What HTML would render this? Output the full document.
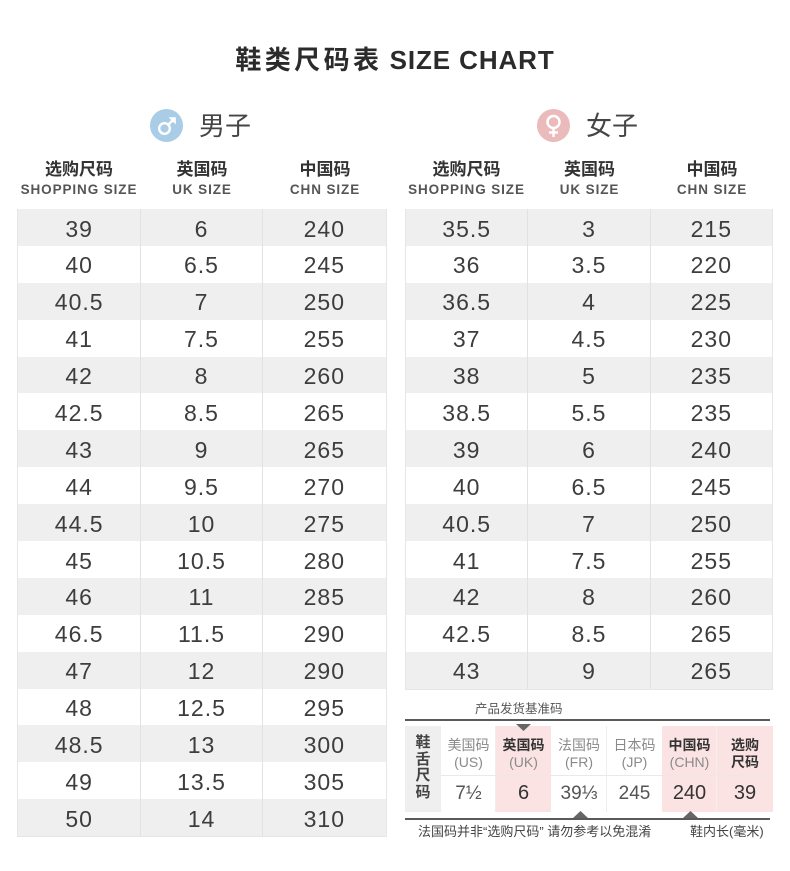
<!DOCTYPE html>
<html><head><meta charset="utf-8">
<style>
*{margin:0;padding:0;box-sizing:border-box}
body{width:790px;height:871px;background:#fff;position:relative;overflow:hidden;font-family:"Liberation Sans","Noto Sans CJK SC",sans-serif;color:#333}
.abs{position:absolute}
.title{left:0;width:790px;top:43px;text-align:center;font-size:26px;font-weight:bold;color:#2b2b2b;line-height:34px;white-space:nowrap}
.title .cn{letter-spacing:3.4px}
.title .en{font-family:"Liberation Sans",sans-serif;letter-spacing:0.9px}
.sex{font-size:26px;color:#454545;line-height:30px;top:111px}
.hd{text-align:center;white-space:nowrap}
.hd .c{font-size:17px;font-weight:bold;color:#333;line-height:20px}
.hd .e{font-size:13.5px;font-weight:bold;color:#555;letter-spacing:0.9px;line-height:16px;margin-top:2px}
.tbl{position:absolute;border:1px solid #e6e6e6;border-top:none}
.row{display:flex;height:36.9px}
.row.g{background:#efefef}
.row div{text-align:center;font-size:23px;letter-spacing:1px;color:#3d3d3d;line-height:36.9px;padding-top:1.5px;border-right:1px solid #e2e2e2}
.row div:last-child{border-right:none}
.st{position:absolute;font-size:14px;text-align:center;line-height:17px;color:#8a8a8a}
.st b{color:#333}
.val{position:absolute;text-align:center;font-size:19px;color:#555;line-height:37px}
</style></head><body>

<div class="abs title"><span class="cn">鞋类尺码表</span> <span class="en">SIZE CHART</span></div>

<svg class="abs" style="left:150px;top:109px" width="33" height="33" viewBox="0 0 33 33">
<circle cx="16.5" cy="16.5" r="16.5" fill="#a9cde6"/>
<circle cx="14.5" cy="19.5" r="5.3" fill="none" stroke="#fff" stroke-width="2.4"/>
<line x1="18.3" y1="15.7" x2="23.5" y2="10.5" stroke="#fff" stroke-width="2.4"/>
<polygon points="18.5,8.2 25.8,8.2 25.8,15.5" fill="#fff"/>
</svg>
<div class="abs sex" style="left:199px">男子</div>

<svg class="abs" style="left:537px;top:109px" width="33" height="33" viewBox="0 0 33 33">
<circle cx="16.5" cy="16.5" r="16.5" fill="#ebbaba"/>
<circle cx="16.5" cy="13" r="6" fill="none" stroke="#fff" stroke-width="2.4"/>
<line x1="16.5" y1="19" x2="16.5" y2="28" stroke="#fff" stroke-width="2.4"/>
<line x1="12" y1="23.5" x2="21" y2="23.5" stroke="#fff" stroke-width="2.4"/>
</svg>
<div class="abs sex" style="left:586px">女子</div>

<!-- headers male -->
<div class="abs hd" style="left:17px;width:124px;top:160px"><div class="c">选购尺码</div><div class="e">SHOPPING SIZE</div></div>
<div class="abs hd" style="left:141px;width:122px;top:160px"><div class="c">英国码</div><div class="e">UK SIZE</div></div>
<div class="abs hd" style="left:263px;width:124px;top:160px"><div class="c">中国码</div><div class="e">CHN SIZE</div></div>
<!-- headers female -->
<div class="abs hd" style="left:405px;width:123px;top:160px"><div class="c">选购尺码</div><div class="e">SHOPPING SIZE</div></div>
<div class="abs hd" style="left:528px;width:123px;top:160px"><div class="c">英国码</div><div class="e">UK SIZE</div></div>
<div class="abs hd" style="left:651px;width:122px;top:160px"><div class="c">中国码</div><div class="e">CHN SIZE</div></div>

<div class="tbl" style="left:17px;top:209px;width:370px">
<div class="row g"><div style="width:124px">39</div><div style="width:122px">6</div><div style="width:124px">240</div></div>
<div class="row"><div style="width:124px">40</div><div style="width:122px">6.5</div><div style="width:124px">245</div></div>
<div class="row g"><div style="width:124px">40.5</div><div style="width:122px">7</div><div style="width:124px">250</div></div>
<div class="row"><div style="width:124px">41</div><div style="width:122px">7.5</div><div style="width:124px">255</div></div>
<div class="row g"><div style="width:124px">42</div><div style="width:122px">8</div><div style="width:124px">260</div></div>
<div class="row"><div style="width:124px">42.5</div><div style="width:122px">8.5</div><div style="width:124px">265</div></div>
<div class="row g"><div style="width:124px">43</div><div style="width:122px">9</div><div style="width:124px">265</div></div>
<div class="row"><div style="width:124px">44</div><div style="width:122px">9.5</div><div style="width:124px">270</div></div>
<div class="row g"><div style="width:124px">44.5</div><div style="width:122px">10</div><div style="width:124px">275</div></div>
<div class="row"><div style="width:124px">45</div><div style="width:122px">10.5</div><div style="width:124px">280</div></div>
<div class="row g"><div style="width:124px">46</div><div style="width:122px">11</div><div style="width:124px">285</div></div>
<div class="row"><div style="width:124px">46.5</div><div style="width:122px">11.5</div><div style="width:124px">290</div></div>
<div class="row g"><div style="width:124px">47</div><div style="width:122px">12</div><div style="width:124px">290</div></div>
<div class="row"><div style="width:124px">48</div><div style="width:122px">12.5</div><div style="width:124px">295</div></div>
<div class="row g"><div style="width:124px">48.5</div><div style="width:122px">13</div><div style="width:124px">300</div></div>
<div class="row"><div style="width:124px">49</div><div style="width:122px">13.5</div><div style="width:124px">305</div></div>
<div class="row g"><div style="width:124px">50</div><div style="width:122px">14</div><div style="width:124px">310</div></div>
</div>

<div class="tbl" style="left:405px;top:209px;width:368px">
<div class="row g"><div style="width:123px">35.5</div><div style="width:123px">3</div><div style="width:122px">215</div></div>
<div class="row"><div style="width:123px">36</div><div style="width:123px">3.5</div><div style="width:122px">220</div></div>
<div class="row g"><div style="width:123px">36.5</div><div style="width:123px">4</div><div style="width:122px">225</div></div>
<div class="row"><div style="width:123px">37</div><div style="width:123px">4.5</div><div style="width:122px">230</div></div>
<div class="row g"><div style="width:123px">38</div><div style="width:123px">5</div><div style="width:122px">235</div></div>
<div class="row"><div style="width:123px">38.5</div><div style="width:123px">5.5</div><div style="width:122px">235</div></div>
<div class="row g"><div style="width:123px">39</div><div style="width:123px">6</div><div style="width:122px">240</div></div>
<div class="row"><div style="width:123px">40</div><div style="width:123px">6.5</div><div style="width:122px">245</div></div>
<div class="row g"><div style="width:123px">40.5</div><div style="width:123px">7</div><div style="width:122px">250</div></div>
<div class="row"><div style="width:123px">41</div><div style="width:123px">7.5</div><div style="width:122px">255</div></div>
<div class="row g"><div style="width:123px">42</div><div style="width:123px">8</div><div style="width:122px">260</div></div>
<div class="row"><div style="width:123px">42.5</div><div style="width:123px">8.5</div><div style="width:122px">265</div></div>
<div class="row g"><div style="width:123px">43</div><div style="width:123px">9</div><div style="width:122px">265</div></div>
</div>

<!-- small reference table -->
<div class="abs" style="left:475px;top:700px;font-size:12.5px;color:#555;line-height:18px;white-space:nowrap">产品发货基准码</div>
<div class="abs" style="left:405px;top:718.5px;width:365px;height:2px;background:#5a5a5a"></div>

<div class="abs" style="left:405px;top:726px;width:36px;height:86px;background:#efefef"></div>
<div class="abs" style="left:441px;top:726px;width:55px;height:86px;background:#fff;border-right:1px solid #eee"></div>
<div class="abs" style="left:496px;top:726px;width:55px;height:86px;background:#fbe3e3"></div>
<div class="abs" style="left:551px;top:726px;width:56px;height:86px;background:#fff;border-right:1px solid #eee"></div>
<div class="abs" style="left:607px;top:726px;width:55px;height:86px;background:#fff"></div>
<div class="abs" style="left:662px;top:726px;width:55px;height:86px;background:#fbe3e3;border-right:1px solid #f6eeee"></div>
<div class="abs" style="left:717px;top:726px;width:56px;height:86px;background:#fbe3e3"></div>
<div class="abs" style="left:441px;top:775px;width:332px;height:1px;background:#efe6e6"></div>

<svg class="abs" style="left:516px;top:724px" width="15" height="8"><polygon points="0,0 15,0 7.5,7" fill="#666"/></svg>

<div class="st" style="left:405px;top:735px;width:36px;font-size:15px;font-weight:bold;color:#444;line-height:16.5px">鞋<br>舌<br>尺<br>码</div>

<div class="st" style="left:441px;top:737px;width:55px">美国码<br>(US)</div>
<div class="st" style="left:496px;top:737px;width:55px"><b>英国码</b><br>(UK)</div>
<div class="st" style="left:551px;top:737px;width:56px">法国码<br>(FR)</div>
<div class="st" style="left:607px;top:737px;width:55px">日本码<br>(JP)</div>
<div class="st" style="left:662px;top:737px;width:55px"><b>中国码</b><br>(CHN)</div>
<div class="st" style="left:717px;top:737px;width:56px;color:#333"><b>选购<br>尺码</b></div>

<div class="val" style="left:441px;top:775px;width:55px">7½</div>
<div class="val" style="left:496px;top:775px;width:55px;color:#333;font-size:20px">6</div>
<div class="val" style="left:551px;top:775px;width:56px">39⅓</div>
<div class="val" style="left:607px;top:775px;width:55px">245</div>
<div class="val" style="left:662px;top:775px;width:55px;color:#333;font-size:20px">240</div>
<div class="val" style="left:717px;top:775px;width:56px;color:#333;font-size:20px">39</div>

<svg class="abs" style="left:573px;top:811px" width="15" height="7"><polygon points="0,7 15,7 7.5,0" fill="#666"/></svg>
<svg class="abs" style="left:683px;top:811px" width="15" height="7"><polygon points="0,7 15,7 7.5,0" fill="#666"/></svg>
<div class="abs" style="left:405px;top:818px;width:365px;height:2px;background:#5a5a5a"></div>

<div class="abs" style="left:418px;top:823px;font-size:13px;color:#444;line-height:18px;white-space:nowrap">法国码并非“选购尺码” 请勿参考以免混淆</div>
<div class="abs" style="left:690px;top:823px;font-size:13px;color:#444;line-height:18px;white-space:nowrap">鞋内长(毫米)</div>

</body></html>
